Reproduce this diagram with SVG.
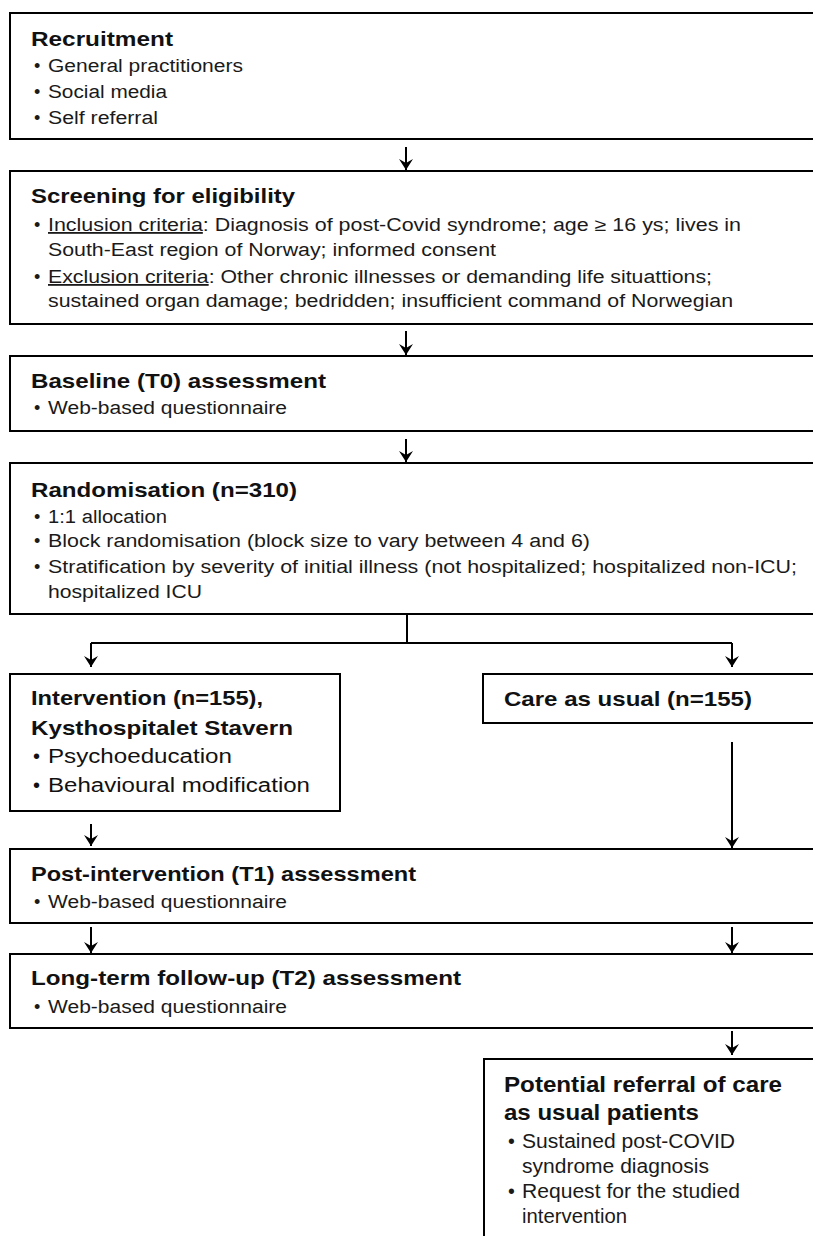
<svg xmlns="http://www.w3.org/2000/svg" width="813" height="1236" viewBox="0 0 813 1236">
<style>
.box{fill:#fff;stroke:#000;stroke-width:2}
.t{font-family:"Liberation Sans",Arial,sans-serif;font-weight:bold;font-size:21px;fill:#111}
.b{font-family:"Liberation Sans",Arial,sans-serif;font-size:18px;fill:#1a1a1a}
.b2{font-family:"Liberation Sans",Arial,sans-serif;font-size:20px;fill:#111}
.b3{font-family:"Liberation Sans",Arial,sans-serif;font-size:19.5px;fill:#1a1a1a}
.c{fill:none;stroke:#000;stroke-width:2}
.u{text-decoration:underline}
</style>
<defs>
<marker id="ah" markerWidth="14" markerHeight="13" refX="7" refY="12" orient="auto-start-reverse" markerUnits="userSpaceOnUse" viewBox="0 0 14 13">
<path d="M0,2 L7,12 L14,2 L7,6 Z" fill="#000" transform="rotate(-90 7 7)"/>
</marker>
<marker id="ad" markerWidth="14" markerHeight="13" refX="7" refY="12" orient="0" markerUnits="userSpaceOnUse" viewBox="0 0 14 13">
<path d="M0,1 L7,12 L14,1 L7,5 Z" fill="#000"/>
</marker>
</defs>
<rect width="813" height="1236" fill="#fff"/>

<g id="recruitment">
<rect class="box" x="10" y="13" width="815" height="126"/>
<text class="t" x="31" y="46" textLength="142" lengthAdjust="spacingAndGlyphs">Recruitment</text>
<text class="b" x="34" y="72">•</text><text class="b" x="48" y="72" textLength="195" lengthAdjust="spacingAndGlyphs">General practitioners</text>
<text class="b" x="34" y="98">•</text><text class="b" x="48" y="98" textLength="119" lengthAdjust="spacingAndGlyphs">Social media</text>
<text class="b" x="34" y="124">•</text><text class="b" x="48" y="124" textLength="110" lengthAdjust="spacingAndGlyphs">Self referral</text>
</g>

<g id="screening">
<rect class="box" x="10" y="171" width="815" height="153"/>
<text class="t" x="31" y="203" textLength="264" lengthAdjust="spacingAndGlyphs">Screening for eligibility</text>
<text class="b" x="34" y="231">•</text><text class="b" x="48" y="231" textLength="693" lengthAdjust="spacingAndGlyphs"><tspan class="u">Inclusion criteria</tspan>: Diagnosis of post-Covid syndrome; age ≥ 16 ys; lives in</text>
<text class="b" x="48" y="256" textLength="448" lengthAdjust="spacingAndGlyphs">South-East region of Norway; informed consent</text>
<text class="b" x="34" y="283">•</text><text class="b" x="48" y="283" textLength="664" lengthAdjust="spacingAndGlyphs"><tspan class="u">Exclusion criteria</tspan>: Other chronic illnesses or demanding life situattions;</text>
<text class="b" x="48" y="307" textLength="685" lengthAdjust="spacingAndGlyphs">sustained organ damage; bedridden; insufficient command of Norwegian</text>
</g>

<g id="baseline">
<rect class="box" x="10" y="356" width="815" height="75"/>
<text class="t" x="31" y="388" textLength="295" lengthAdjust="spacingAndGlyphs">Baseline (T0) assessment</text>
<text class="b" x="34" y="414">•</text><text class="b" x="48" y="414" textLength="239" lengthAdjust="spacingAndGlyphs">Web-based questionnaire</text>
</g>

<g id="randomisation">
<rect class="box" x="10" y="463" width="815" height="151"/>
<text class="t" x="31" y="497" textLength="266" lengthAdjust="spacingAndGlyphs">Randomisation (n=310)</text>
<text class="b" x="34" y="523">•</text><text class="b" x="48" y="523" textLength="119" lengthAdjust="spacingAndGlyphs">1:1 allocation</text>
<text class="b" x="34" y="547">•</text><text class="b" x="48" y="547" textLength="542" lengthAdjust="spacingAndGlyphs">Block randomisation (block size to vary between 4 and 6)</text>
<text class="b" x="34" y="573">•</text><text class="b" x="48" y="573" textLength="749" lengthAdjust="spacingAndGlyphs">Stratification by severity of initial illness (not hospitalized; hospitalized non-ICU;</text>
<text class="b" x="48" y="598" textLength="154" lengthAdjust="spacingAndGlyphs">hospitalized ICU</text>
</g>

<g id="intervention">
<rect class="box" x="10" y="674" width="330" height="137"/>
<text class="t" x="31" y="705" textLength="232" lengthAdjust="spacingAndGlyphs">Intervention (n=155),</text>
<text class="t" x="31" y="735" textLength="262" lengthAdjust="spacingAndGlyphs">Kysthospitalet Stavern</text>
<text class="b2" x="33" y="763">•</text><text class="b2" x="48" y="763" textLength="184" lengthAdjust="spacingAndGlyphs">Psychoeducation</text>
<text class="b2" x="33" y="792">•</text><text class="b2" x="48" y="792" textLength="262" lengthAdjust="spacingAndGlyphs">Behavioural modification</text>
</g>

<g id="care-as-usual">
<rect class="box" x="483" y="674" width="345" height="49"/>
<text class="t" x="504" y="706" textLength="248" lengthAdjust="spacingAndGlyphs">Care as usual (n=155)</text>
</g>

<g id="post-intervention">
<rect class="box" x="10" y="849" width="815" height="74"/>
<text class="t" x="31" y="881" textLength="385" lengthAdjust="spacingAndGlyphs">Post-intervention (T1) assessment</text>
<text class="b" x="34" y="908">•</text><text class="b" x="48" y="908" textLength="239" lengthAdjust="spacingAndGlyphs">Web-based questionnaire</text>
</g>

<g id="long-term">
<rect class="box" x="10" y="954" width="815" height="74"/>
<text class="t" x="31" y="985" textLength="430" lengthAdjust="spacingAndGlyphs">Long-term follow-up (T2) assessment</text>
<text class="b" x="34" y="1013">•</text><text class="b" x="48" y="1013" textLength="239" lengthAdjust="spacingAndGlyphs">Web-based questionnaire</text>
</g>

<g id="referral">
<rect class="box" x="484" y="1059" width="345" height="200"/>
<text class="t" x="504" y="1092" textLength="278" lengthAdjust="spacingAndGlyphs" style="font-size:22px">Potential referral of care</text>
<text class="t" x="504" y="1120" textLength="195" lengthAdjust="spacingAndGlyphs" style="font-size:22px">as usual patients</text>
<text class="b3" x="508" y="1148">•</text><text class="b3" x="522" y="1148" textLength="213" lengthAdjust="spacingAndGlyphs">Sustained post-COVID</text>
<text class="b3" x="522" y="1173" textLength="187" lengthAdjust="spacingAndGlyphs">syndrome diagnosis</text>
<text class="b3" x="508" y="1198">•</text><text class="b3" x="522" y="1198" textLength="218" lengthAdjust="spacingAndGlyphs">Request for the studied</text>
<text class="b3" x="522" y="1223" textLength="105" lengthAdjust="spacingAndGlyphs">intervention</text>
</g>

<g id="connectors">
<path class="c" d="M406,147 V170" marker-end="url(#ad)"/>
<path class="c" d="M406,331 V355" marker-end="url(#ad)"/>
<path class="c" d="M406,439 V462" marker-end="url(#ad)"/>
<path class="c" d="M407,615 V643 M91,643 H732"/>
<path class="c" d="M91,643 V667" marker-end="url(#ad)"/>
<path class="c" d="M732,643 V667" marker-end="url(#ad)"/>
<path class="c" d="M91,824 V846" marker-end="url(#ad)"/>
<path class="c" d="M732,742 V848" marker-end="url(#ad)"/>
<path class="c" d="M91,927 V953" marker-end="url(#ad)"/>
<path class="c" d="M732,927 V953" marker-end="url(#ad)"/>
<path class="c" d="M732,1031 V1055" marker-end="url(#ad)"/>
</g>
</svg>
